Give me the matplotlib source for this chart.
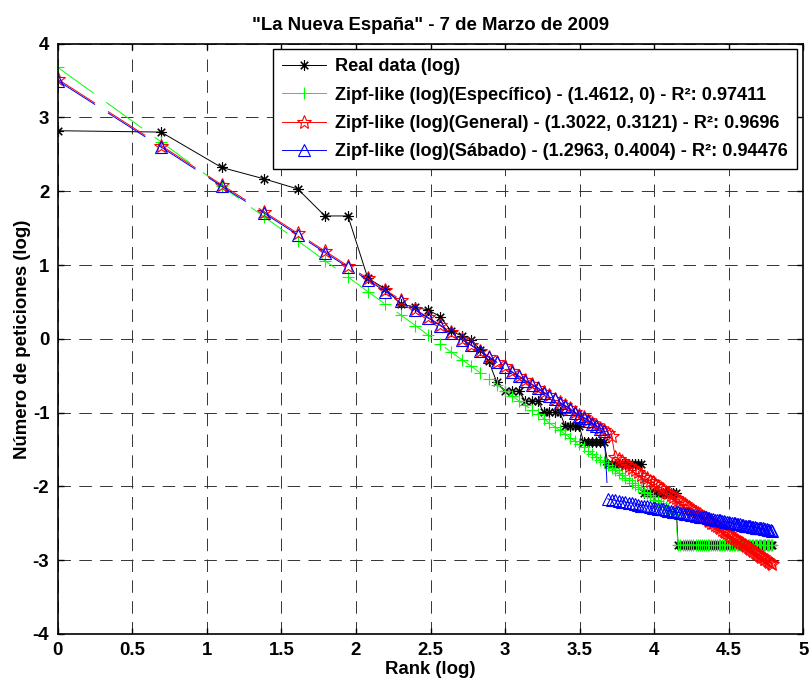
import numpy as np
import matplotlib
matplotlib.use("Agg")
import matplotlib.pyplot as plt
from matplotlib.lines import Line2D

plt.rcParams['font.family'] = ['Liberation Sans', 'DejaVu Sans']
plt.rcParams['font.weight'] = 'bold'
plt.rcParams['lines.scale_dashes'] = False
plt.rcParams['axes.unicode_minus'] = False

# rank 1..120, shown on a natural-log axis
rank = np.arange(1, 121)

# requests per document (real data), log of the percentage is plotted
real_counts = np.array(
    [273, 268, 166, 142, 124, 86, 86, 37, 32, 26,
     25, 24, 22, 18, 17, 16, 14, 12, 9, 8,
     8, 8, 7, 7, 7, 6, 6, 6, 6, 5,
     5, 5, 5, 4, 4, 4, 4, 4, 4, 3,
     3, 3, 3, 3, 3, 3, 3, 3, 3, 3,
     2, 2, 2, 2, 2, 2, 2, 2, 2, 2,
     2, 2, 2] + [1] * 57)

# fitted curves (log) for each rank
zipf_especifico = (
    [3.68, 2.67, 2.07, 1.65, 1.33, 1.06, 0.84, 0.64, 0.47, 0.32,
     0.18, 0.05, -0.07, -0.18, -0.28, -0.37, -0.46, -0.54, -0.62, -0.70,
     -0.77, -0.84, -0.90, -0.96, -1.02, -1.08, -1.14, -1.19, -1.24, -1.29,
     -1.34, -1.38, -1.43, -1.47, -1.52, -1.56, -1.60, -1.64, -1.67, -1.71,
     -1.75, -1.78, -1.82, -1.85, -1.88, -1.91, -1.95, -1.98, -2.01, -2.04,
     -2.07, -2.09, -2.12, -2.15, -2.18, -2.20, -2.23, -2.25, -2.28, -2.30,
     -2.33, -2.35, -2.37] + [-2.79] * 57)

zipf_general = [
    3.52, 2.62, 2.09, 1.72, 1.43, 1.19, 0.99, 0.82, 0.66, 0.53,
    0.40, 0.29, 0.19, 0.09, 0.00, -0.08, -0.16, -0.24, -0.31, -0.37,
    -0.44, -0.50, -0.56, -0.61, -0.66, -0.72, -0.76, -0.81, -0.86, -0.90,
    -0.94, -0.99, -1.03, -1.06, -1.10, -1.14, -1.17, -1.21, -1.24, -1.28,
    -1.31, -1.60, -1.63, -1.66, -1.69, -1.72, -1.75, -1.78, -1.81, -1.84,
    -1.87, -1.89, -1.92, -1.94, -1.97, -2.00, -2.02, -2.04, -2.07, -2.09,
    -2.11, -2.14, -2.16, -2.18, -2.20, -2.22, -2.24, -2.26, -2.28, -2.30,
    -2.32, -2.34, -2.36, -2.38, -2.40, -2.42, -2.43, -2.45, -2.47, -2.49,
    -2.50, -2.52, -2.54, -2.55, -2.57, -2.59, -2.60, -2.62, -2.63, -2.65,
    -2.67, -2.68, -2.70, -2.71, -2.72, -2.74, -2.75, -2.77, -2.78, -2.80,
    -2.81, -2.82, -2.84, -2.85, -2.86, -2.88, -2.89, -2.90, -2.91, -2.93,
    -2.94, -2.95, -2.96, -2.98, -2.99, -3.00, -3.01, -3.02, -3.04, -3.05]

zipf_sabado = [
    3.50, 2.60, 2.07, 1.70, 1.41, 1.17, 0.97, 0.80, 0.64, 0.51,
    0.39, 0.28, 0.18, 0.08, -0.01, -0.09, -0.17, -0.25, -0.32, -0.38,
    -0.45, -0.51, -0.57, -0.62, -0.67, -0.73, -0.77, -0.82, -0.87, -0.91,
    -0.95, -1.00, -1.04, -1.07, -1.11, -1.15, -1.18, -1.22, -1.25, -2.17,
    -2.18, -2.19, -2.20, -2.21, -2.21, -2.22, -2.23, -2.24, -2.25, -2.26,
    -2.26, -2.27, -2.28, -2.29, -2.29, -2.30, -2.31, -2.31, -2.32, -2.33,
    -2.33, -2.34, -2.35, -2.35, -2.36, -2.36, -2.37, -2.38, -2.38, -2.39,
    -2.39, -2.40, -2.40, -2.41, -2.41, -2.42, -2.42, -2.43, -2.43, -2.44,
    -2.44, -2.45, -2.45, -2.46, -2.46, -2.47, -2.47, -2.48, -2.48, -2.48,
    -2.49, -2.49, -2.50, -2.50, -2.51, -2.51, -2.51, -2.52, -2.52, -2.53,
    -2.53, -2.53, -2.54, -2.54, -2.55, -2.55, -2.55, -2.56, -2.56, -2.56,
    -2.57, -2.57, -2.57, -2.58, -2.58, -2.58, -2.59, -2.59, -2.59, -2.60]

labels = ["Real data (log)",
          "Zipf-like (log)(Específico) - (1.4612, 0) - R²: 0.97411",
          "Zipf-like (log)(General) - (1.3022, 0.3121) - R²: 0.9696",
          "Zipf-like (log)(Sábado) - (1.2963, 0.4004) - R²: 0.94476"]

FS = 13.4
DASH = (0, (32, 11))

fig = plt.figure(figsize=(8.11, 6.84), dpi=100)
ax = fig.add_axes([0.0711, 0.0731, 0.9196, 0.863])

x = np.log(rank)
real_log = np.log(100 * real_counts / real_counts.sum())

styles = [
    dict(color='k', marker=(8, 2, 0), ms=7.5, ls='-'),
    dict(color='#00ff00', marker='+', ms=9, ls=DASH),
    dict(color='r', marker='*', ms=10, mfc='none', ls=DASH),
    dict(color='b', marker='^', ms=8, mfc='none', ls=DASH),
]
for ys, st in zip([real_log, zipf_especifico, zipf_general, zipf_sabado], styles):
    ax.plot(x, ys, lw=0.7, mew=0.8, **st)

ax.set_xlim(0, 5)
ax.set_ylim(-4, 4)
ax.set_xticks(np.arange(0, 5.01, 0.5))
ax.set_xticklabels(['0', '0.5', '1', '1.5', '2', '2.5', '3', '3.5', '4', '4.5', '5'])
ax.set_yticks(np.arange(-4, 5, 1))
ax.grid(True, color='0.2', lw=0.7, ls=(0, (9, 6)))
ax.tick_params(direction='in', top=True, right=True, length=4, width=1,
               labelsize=FS, pad=6)
for sp in ax.spines.values():
    sp.set_linewidth(1.2)

ax.set_title('"La Nueva España" - 7 de Marzo de 2009', fontsize=FS,
             fontweight='bold', pad=10)
ax.set_xlabel('Rank (log)', fontsize=FS, fontweight='bold', labelpad=1)
ax.set_ylabel('Número de peticiones (log)', fontsize=FS, fontweight='bold',
              labelpad=1)

handles = [Line2D([], [], lw=0.7, mew=0.8,
                  **{k: v for k, v in st.items() if k != 'ls'})
           for st in styles]
leg = ax.legend(handles, labels, loc='upper right',
                bbox_to_anchor=(797 / 811, 634.7 / 684),
                bbox_transform=fig.transFigure, borderaxespad=0,
                fontsize=13.1, fancybox=False, framealpha=1, edgecolor='k',
                numpoints=1, handlelength=2.4, handletextpad=0.5,
                labelspacing=0.62, borderpad=0.5)
leg.get_frame().set_linewidth(1.0)

fig.savefig('out.png', dpi=100)
